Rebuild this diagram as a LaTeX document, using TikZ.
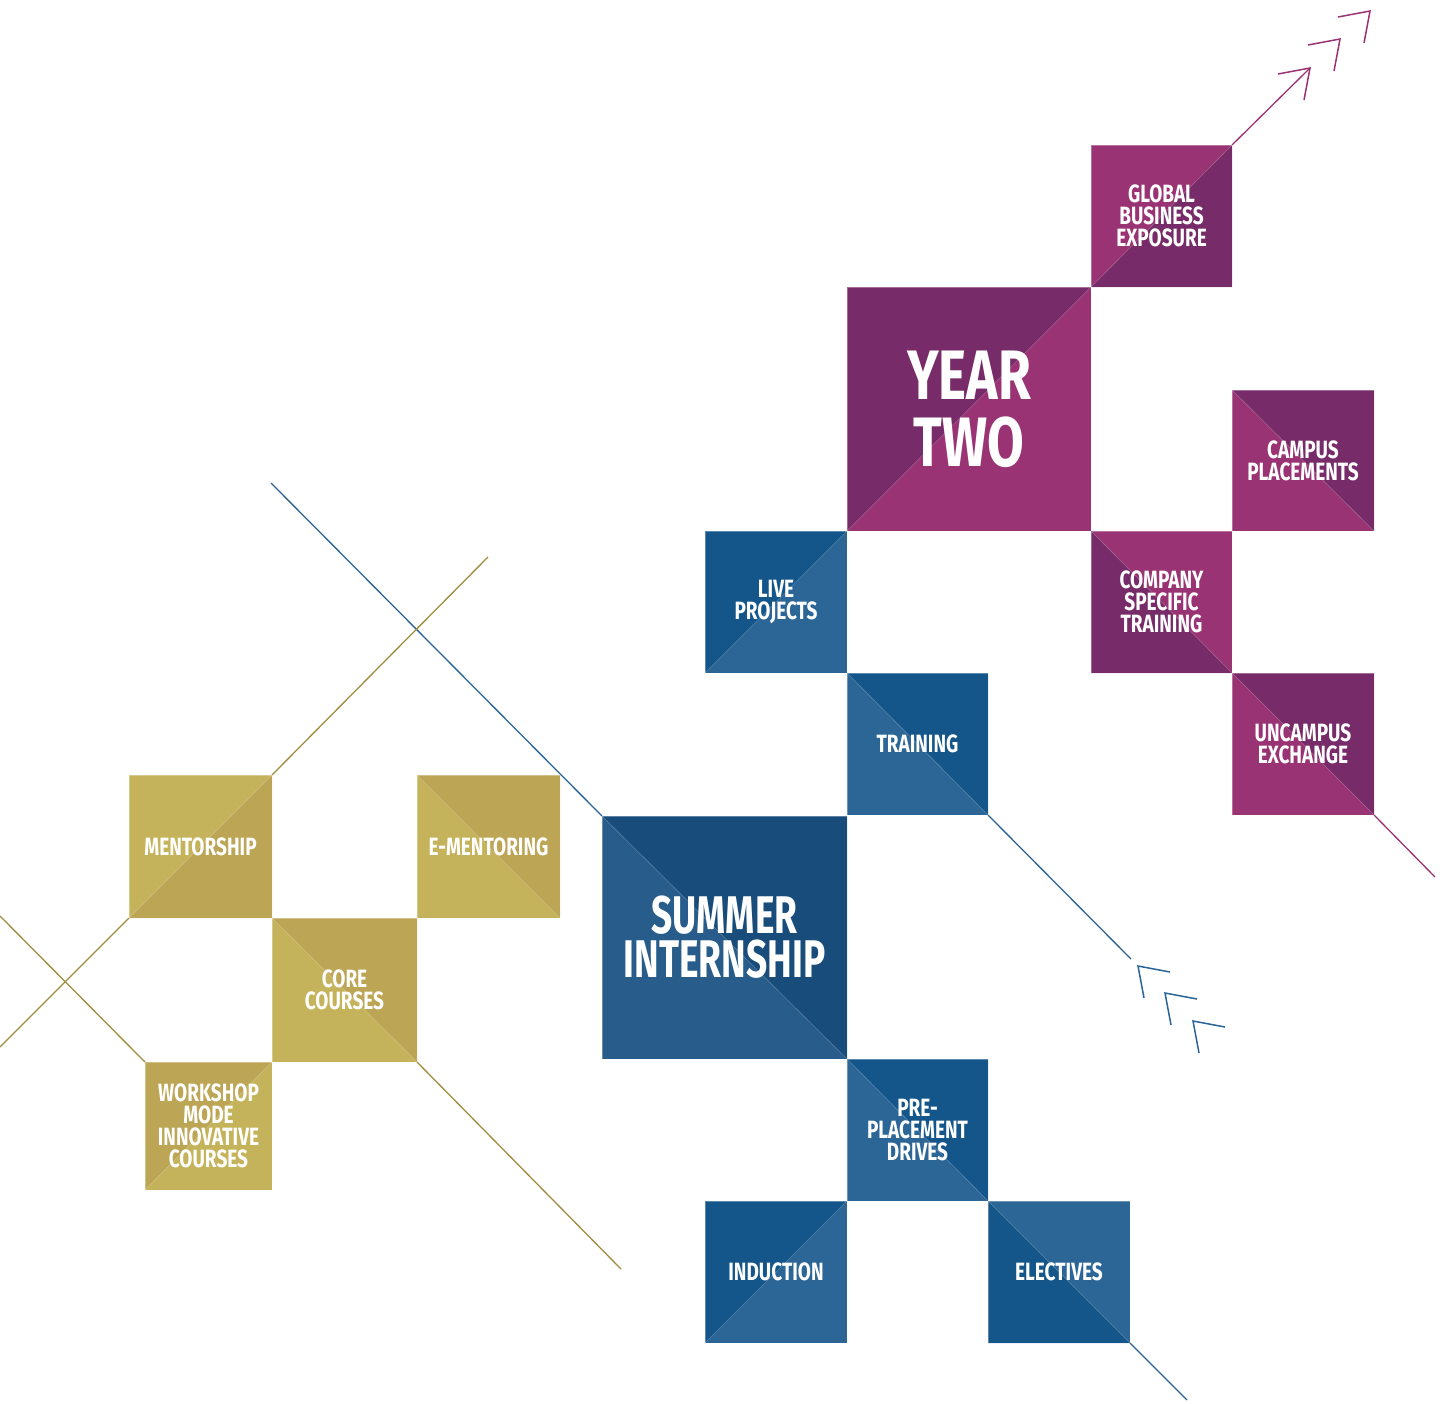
\documentclass[tikz,border=0pt]{standalone}
\usepackage{fontspec}
\newfontfamily\lab{Fira Sans}[FakeStretch=0.76]
\newfontfamily\labn{Fira Sans}[FakeStretch=0.70]
\definecolor{magL}{HTML}{9A3374}
\definecolor{magD}{HTML}{772B68}
\definecolor{bluD}{HTML}{14568A}
\definecolor{bluL}{HTML}{2C6696}
\definecolor{siD}{HTML}{184C7A}
\definecolor{siL}{HTML}{285C8A}
\definecolor{golL}{HTML}{C5B35B}
\definecolor{golD}{HTML}{BCA554}
\definecolor{magLine}{HTML}{9A3374}
\definecolor{bluLine}{HTML}{2A6496}
\definecolor{golLine}{HTML}{A08C3E}
\begin{document}
\begin{tikzpicture}[x=1pt,y=-1pt,
  box/.style 2 args={inner sep=0pt, outer sep=0pt, minimum width=#1pt, minimum height=#2pt,
    draw=white, draw opacity=0.3, line width=0.6pt, text=white, align=center,
    font=\lab\bfseries\fontsize{25}{22}\selectfont},
  diag/.style={white, opacity=0.25, line width=0.6pt},
  tri ul/.style={path picture={\fill[#1] (path picture bounding box.south west) -- (path picture bounding box.north west) -- (path picture bounding box.north east) -- cycle;
     \draw[diag] (path picture bounding box.south west) -- (path picture bounding box.north east);}},
  tri lr/.style={path picture={\fill[#1] (path picture bounding box.south west) -- (path picture bounding box.south east) -- (path picture bounding box.north east) -- cycle;
     \draw[diag] (path picture bounding box.south west) -- (path picture bounding box.north east);}},
  tri ur/.style={path picture={\fill[#1] (path picture bounding box.north west) -- (path picture bounding box.north east) -- (path picture bounding box.south east) -- cycle;
     \draw[diag] (path picture bounding box.north west) -- (path picture bounding box.south east);}},
  tri ll/.style={path picture={\fill[#1] (path picture bounding box.north west) -- (path picture bounding box.south west) -- (path picture bounding box.south east) -- cycle;
     \draw[diag] (path picture bounding box.north west) -- (path picture bounding box.south east);}},
  bigtxt/.style={font=\lab\bfseries\fontsize{70}{67}\selectfont},
  midtxt/.style={font=\labn\bfseries\fontsize{53}{44}\selectfont},
  magln/.style={draw=magLine, line width=1.3pt},
  bluln/.style={draw=bluLine, line width=1.3pt},
  golln/.style={draw=golLine, line width=1.3pt},
  chev/.style={line width=1.5pt, miter limit=20}
]
\useasboundingbox (0,0) rectangle (1442,1403);

% free ends of the connectors
\coordinate (mt1) at (1310,68);
\coordinate (mt2) at (1340,39);
\coordinate (mt3) at (1370,11);
\coordinate (ueEnd) at (1435,877);
\coordinate (trEnd) at (1131,959);
\coordinate (bt1) at (1138,966);
\coordinate (bt2) at (1165,993);
\coordinate (bt3) at (1193,1021);
\coordinate (siStart) at (271,483);
\coordinate (elEnd) at (1187,1400);
\coordinate (menEnd) at (488,557);
\coordinate (menLow) at (0,1047);
\coordinate (wsStart) at (0,916);
\coordinate (coreEnd) at (621,1269);

% magenta boxes
\node[box={141}{142}, fill=magL, tri lr=magD] (gbe) at (1161.5,216) {GLOBAL\\BUSINESS\\EXPOSURE};
\node[box={244}{244}, fill=magL, tri ul=magD, bigtxt] (y2) at (969,409) {YEAR\\TWO};
\node[box={142}{141}, fill=magL, tri ur=magD] (cp) at (1303,460.5) {CAMPUS\\PLACEMENTS};
\node[box={141}{142}, fill=magL, tri ll=magD] (cst) at (1161.5,602) {COMPANY\\SPECIFIC\\TRAINING};
\node[box={142}{142}, fill=magL, tri ur=magD] (ue) at (1303,744) {UNCAMPUS\\EXCHANGE};

% blue boxes
\node[box={142}{142}, fill=bluL, tri ul=bluD] (lp) at (776,602) {LIVE\\PROJECTS};
\node[box={141}{142}, fill=bluL, tri ur=bluD] (tr) at (917.5,744) {TRAINING};
\node[box={245}{243}, fill=siL, tri ur=siD, midtxt] (si) at (724.5,937.5) {SUMMER\\INTERNSHIP};
\node[box={141}{142}, fill=bluL, tri ur=bluD] (ppd) at (917.5,1130) {PRE-\\PLACEMENT\\DRIVES};
\node[box={142}{142}, fill=bluL, tri ul=bluD] (ind) at (776,1272) {INDUCTION};
\node[box={142}{142}, fill=bluL, tri ll=bluD] (el) at (1059,1272) {ELECTIVES};

% gold boxes
\node[box={143}{143}, fill=golL, tri lr=golD] (men) at (200.5,846.5) {MENTORSHIP};
\node[box={143}{143}, fill=golL, tri ur=golD] (emen) at (488.5,846.5) {E-MENTORING};
\node[box={145}{144}, fill=golL, tri ur=golD] (core) at (344.5,990) {CORE\\COURSES};
\node[box={127}{128}, fill=golL, tri ul=golD] (ws) at (208.5,1126) {WORKSHOP\\MODE\\INNOVATIVE\\COURSES};

% magenta connectors
\draw[magln] (gbe.north east) -- (mt1);
\draw[magln, chev] (mt1) ++(-32,6) -- (mt1) -- ++(-6,32);
\draw[magln, chev] (mt2) ++(-32,6) -- (mt2) -- ++(-6,32);
\draw[magln, chev] (mt3) ++(-32,6) -- (mt3) -- ++(-6,32);
\draw[magln] (ue.south east) -- (ueEnd);

% blue connectors
\draw[bluln] (siStart) -- (si.north west);
\draw[bluln] (tr.south east) -- (trEnd);
\draw[bluln, chev] (bt1) ++(32,6) -- (bt1) -- ++(6,32);
\draw[bluln, chev] (bt2) ++(32,6) -- (bt2) -- ++(6,32);
\draw[bluln, chev] (bt3) ++(32,6) -- (bt3) -- ++(6,32);
\draw[bluln] (el.south east) -- (elEnd);

% gold connectors
\draw[golln] (men.north east) -- (menEnd);
\draw[golln] (men.south west) -- (menLow);
\draw[golln] (wsStart) -- (ws.north west);
\draw[golln] (core.south east) -- (coreEnd);
\end{tikzpicture}
\end{document}
